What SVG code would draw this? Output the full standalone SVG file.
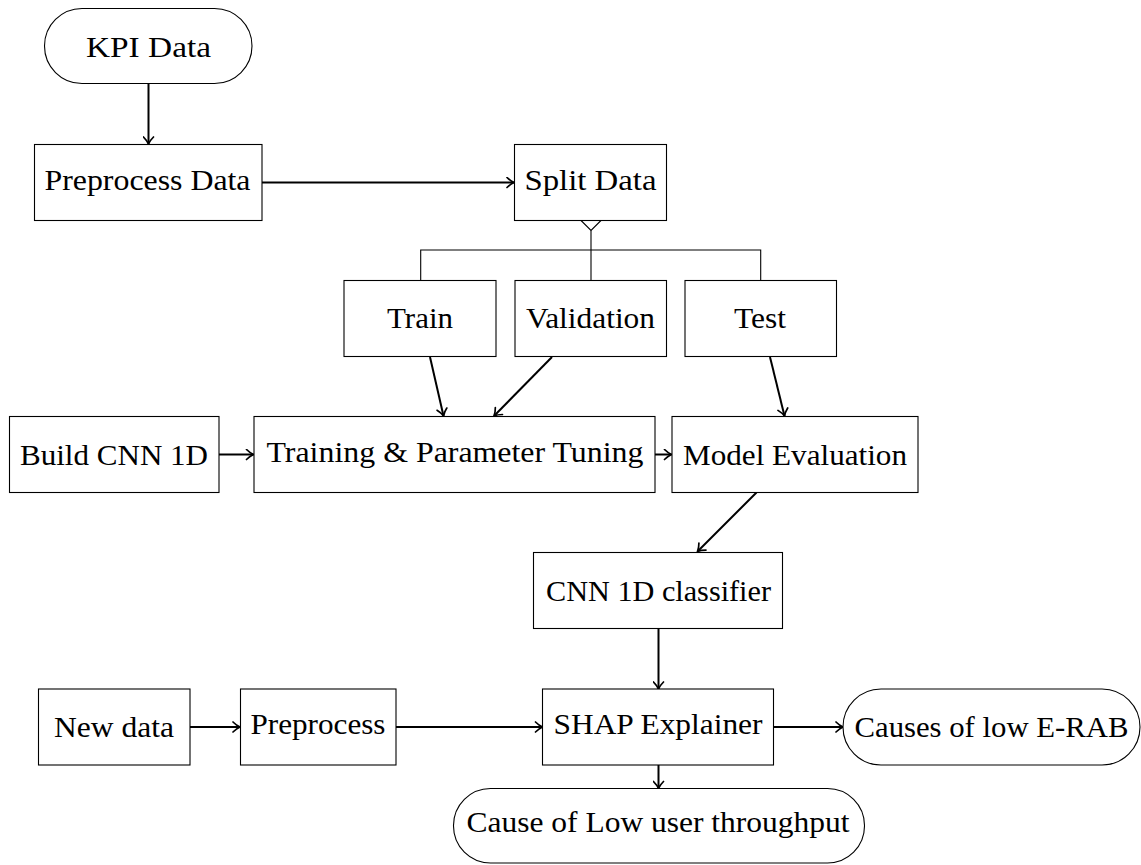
<svg xmlns="http://www.w3.org/2000/svg" width="1141" height="865" viewBox="0 0 1141 865">
  <style>
    .box { fill: #ffffff; stroke: #000000; stroke-width: 1.1; }
    .lbl { font-family: "Liberation Serif", "Times New Roman", serif; font-size: 30px; fill: #000000; text-anchor: middle; }
    .arrow { fill: none; stroke: #000000; stroke-width: 2; marker-end: url(#tip); }
    .tree { fill: none; stroke: #000000; stroke-width: 1.1; }
  </style>
  <defs>
    <marker id="tip" markerUnits="userSpaceOnUse" viewBox="-9 -6 10 12" refX="0" refY="0" markerWidth="10" markerHeight="12" orient="auto">
      <path d="M -7 -5 C -4 -2 -1.2 -0.5 0 0 C -1.2 0.5 -4 2 -7 5" fill="none" stroke="#000000" stroke-width="1.7" stroke-linecap="round"/>
    </marker>
  </defs>
  <rect width="1141" height="865" fill="#ffffff"/>

  <!-- connectors -->
  <g id="connectors">
    <line class="arrow" x1="148.5" y1="84" x2="148.5" y2="144"/>
    <line class="arrow" x1="262" y1="182.5" x2="514" y2="182.5"/>
    <!-- split tree -->
    <path class="tree" d="M 581 220.5 L 601 220.5 L 591 230.5 Z"/>
    <path class="tree" d="M 591 230.5 L 591 280 M 420.7 280 L 420.7 250 L 760.7 250 L 760.7 280"/>
    <line class="arrow" x1="430" y1="357" x2="443.5" y2="416"/>
    <line class="arrow" x1="552" y1="357" x2="494" y2="416"/>
    <line class="arrow" x1="770" y1="357" x2="784.5" y2="416"/>
    <line class="arrow" x1="219" y1="454.5" x2="253.5" y2="454.5"/>
    <line class="arrow" x1="655" y1="454.5" x2="671.5" y2="454.5"/>
    <line class="arrow" x1="756.5" y1="492.5" x2="697.5" y2="551.5"/>
    <line class="arrow" x1="658.5" y1="628.5" x2="658.5" y2="689"/>
    <line class="arrow" x1="190" y1="727" x2="240" y2="727"/>
    <line class="arrow" x1="396" y1="727" x2="542.5" y2="727"/>
    <line class="arrow" x1="774" y1="727" x2="843" y2="727"/>
    <line class="arrow" x1="658.5" y1="765" x2="658.5" y2="788.5"/>
  </g>

  <g id="kpi-data">
    <rect class="box" x="44.5" y="8.5" width="207.5" height="75" rx="37.5" ry="37.5"/>
    <text class="lbl" x="148.5" y="56.5" textLength="125" lengthAdjust="spacingAndGlyphs">KPI Data</text>
  </g>
  <g id="preprocess-data">
    <rect class="box" x="34.5" y="144.5" width="227.5" height="76"/>
    <text class="lbl" x="147.5" y="190" textLength="206" lengthAdjust="spacingAndGlyphs">Preprocess Data</text>
  </g>
  <g id="split-data">
    <rect class="box" x="514.5" y="144.5" width="152" height="76"/>
    <text class="lbl" x="590.5" y="190" textLength="132" lengthAdjust="spacingAndGlyphs">Split Data</text>
  </g>
  <g id="train">
    <rect class="box" x="344" y="280.5" width="152" height="76"/>
    <text class="lbl" x="420" y="328" textLength="66" lengthAdjust="spacingAndGlyphs">Train</text>
  </g>
  <g id="validation">
    <rect class="box" x="515" y="280.5" width="151.5" height="76"/>
    <text class="lbl" x="590.5" y="328" textLength="129" lengthAdjust="spacingAndGlyphs">Validation</text>
  </g>
  <g id="test">
    <rect class="box" x="685" y="280.5" width="151.5" height="76"/>
    <text class="lbl" x="760" y="328" textLength="52" lengthAdjust="spacingAndGlyphs">Test</text>
  </g>
  <g id="build-cnn">
    <rect class="box" x="9.5" y="416.5" width="209.5" height="76"/>
    <text class="lbl" x="114" y="465" textLength="188" lengthAdjust="spacingAndGlyphs">Build CNN 1D</text>
  </g>
  <g id="training">
    <rect class="box" x="254" y="416.5" width="401" height="76"/>
    <text class="lbl" x="455" y="462" textLength="377" lengthAdjust="spacingAndGlyphs">Training &amp; Parameter Tuning</text>
  </g>
  <g id="model-evaluation">
    <rect class="box" x="672" y="416.5" width="246" height="76"/>
    <text class="lbl" x="795" y="465" textLength="224" lengthAdjust="spacingAndGlyphs">Model Evaluation</text>
  </g>
  <g id="cnn-classifier">
    <rect class="box" x="533.5" y="552.5" width="249" height="76"/>
    <text class="lbl" x="658.5" y="600.5" textLength="225" lengthAdjust="spacingAndGlyphs">CNN 1D classifier</text>
  </g>
  <g id="new-data">
    <rect class="box" x="38.5" y="689" width="151.5" height="76"/>
    <text class="lbl" x="114" y="737" textLength="120" lengthAdjust="spacingAndGlyphs">New data</text>
  </g>
  <g id="preprocess">
    <rect class="box" x="240.5" y="689" width="155.5" height="76"/>
    <text class="lbl" x="318" y="734" textLength="135" lengthAdjust="spacingAndGlyphs">Preprocess</text>
  </g>
  <g id="shap-explainer">
    <rect class="box" x="542.5" y="689" width="231" height="76"/>
    <text class="lbl" x="658" y="734" textLength="209" lengthAdjust="spacingAndGlyphs">SHAP Explainer</text>
  </g>
  <g id="causes-erab">
    <rect class="box" x="843" y="689" width="297" height="76" rx="38" ry="38"/>
    <text class="lbl" x="991.5" y="737" textLength="274" lengthAdjust="spacingAndGlyphs">Causes of low E-RAB</text>
  </g>
  <g id="cause-throughput">
    <rect class="box" x="453.5" y="788.5" width="411" height="74.5" rx="37" ry="37"/>
    <text class="lbl" x="658" y="832" textLength="383" lengthAdjust="spacingAndGlyphs">Cause of Low user throughput</text>
  </g>
</svg>
